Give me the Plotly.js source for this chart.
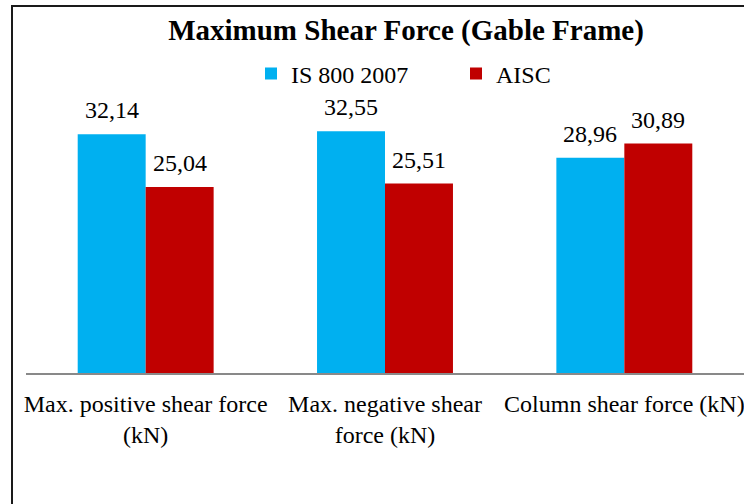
<!DOCTYPE html>
<html>
<head>
<meta charset="utf-8">
<script src="https://cdn.plot.ly/plotly-3.0.1.min.js"></script>
<style>
  html, body { margin: 0; padding: 0; background: #fff; overflow: hidden; }
  #wrap { position: relative; width: 744px; height: 504px; }
  #chart { width: 744px; height: 504px; }
  #frame { position: absolute; left: 11px; top: 5px; width: 800px; height: 600px;
           border: 2px solid #1a1a1a; pointer-events: none; }
</style>
</head>
<body>
<div id="wrap">
  <div id="chart"></div>
  <div id="frame"></div>
</div>
<script>
const categories = [
  "Max. positive shear force<br>(kN)",
  "Max. negative shear<br>force (kN)",
  "Column shear force (kN)"
];
const seriesNames = ["IS 800 2007", "AISC"];
const is800 = [32.14, 32.55, 28.96];
const aisc = [25.04, 25.51, 30.89];
const colors = ["#00B0F0", "#C00000"];

const serif = "Liberation Serif, Times New Roman, serif";
const bargap = 0.432;
const series = [is800, aisc];

const traces = series.map((vals, i) => ({
  type: "bar",
  name: seriesNames[i],
  x: categories,
  y: vals,
  marker: { color: colors[i], line: { width: 0 } },
  hoverinfo: "none"
}));

// value labels placed above each bar (positions derived from the data and group layout)
const barW = (1 - bargap) / series.length;
const annotations = [];
series.forEach((vals, i) => {
  vals.forEach((v, j) => {
    annotations.push({
      x: j + (i - (series.length - 1) / 2) * barW,
      y: v,
      xref: "x", yref: "y",
      text: v.toFixed(2).replace(".", ","),
      showarrow: false,
      xanchor: "center", yanchor: "bottom",
      yshift: 9,
      font: { family: serif, size: 24, color: "#000" }
    });
  });
});

const layout = {
  width: 744,
  height: 504,
  paper_bgcolor: "#fff",
  plot_bgcolor: "#fff",
  margin: { l: 26, r: 0, t: 113, b: 131 },
  barmode: "group",
  bargap: bargap,
  bargroupgap: 0,
  title: {
    text: "<b>Maximum Shear Force (Gable Frame)</b>",
    font: { family: serif, size: 29, color: "#000" },
    x: 406 / 744, xref: "container", xanchor: "center",
    y: 1 - 30 / 504, yref: "container", yanchor: "middle"
  },
  showlegend: true,
  legend: {
    orientation: "h",
    x: 251 / 744, xref: "container", xanchor: "left",
    y: 1 - 74 / 504, yref: "container", yanchor: "middle",
    font: { family: serif, size: 24, color: "#000" },
    itemwidth: 30,
    entrywidth: 160,
    traceorder: "normal"
  },
  annotations: annotations,
  xaxis: {
    type: "category",
    range: [-0.5, 2.5],
    showline: true,
    linecolor: "#898989",
    linewidth: 2,
    ticks: "",
    ticklabelstandoff: 8,
    tickfont: { family: serif, size: 24, color: "#000" },
    fixedrange: true
  },
  yaxis: {
    range: [0, 35],
    visible: false,
    showgrid: false,
    zeroline: false,
    fixedrange: true
  }
};

Plotly.newPlot("chart", traces, layout, { displayModeBar: false, staticPlot: true });
</script>
</body>
</html>
